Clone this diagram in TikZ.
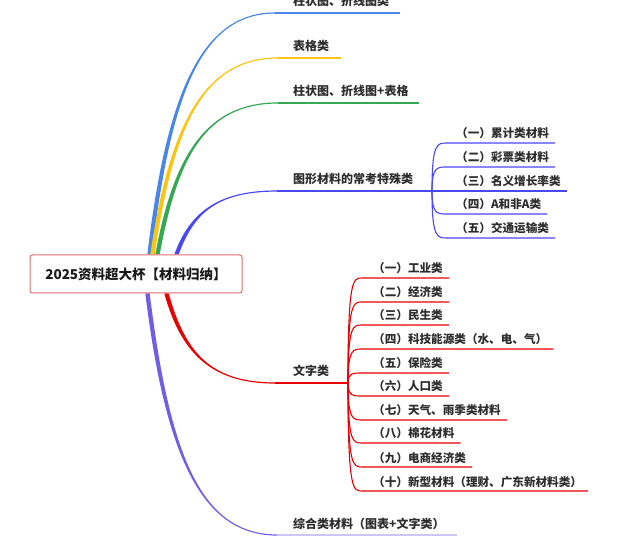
\documentclass[tikz,border=0pt]{standalone}
\usepackage{fontspec}
\setmainfont{Noto Sans CJK SC}
\usetikzlibrary{calc}
\usetikzlibrary{backgrounds}

\definecolor{brblue}{RGB}{74,134,232}
\definecolor{bryellow}{RGB}{250,197,20}
\definecolor{brgreen}{RGB}{52,168,83}
\definecolor{brviolet}{RGB}{72,72,245}
\definecolor{brred}{RGB}{230,0,0}
\definecolor{brpurple}{RGB}{112,94,230}
\definecolor{brlilac}{RGB}{205,198,245}
\definecolor{rootedge}{RGB}{228,108,108}
\definecolor{labelgray}{RGB}{45,45,45}

\tikzset{
  rootbox/.style={draw=rootedge, line width=1pt, rounded corners=2.5pt, fill=white,
    minimum width=212pt, minimum height=38pt, inner sep=0pt,
    font=\bfseries\fontsize{13.5}{15}\selectfont, text=black!90},
  toplabel/.style={anchor=base west, inner sep=0pt, text=labelgray,
    font=\bfseries\fontsize{12}{14}\selectfont},
  sublabel/.style={anchor=base west, inner sep=0pt, text=labelgray,
    font=\bfseries\fontsize{11.6}{13}\selectfont},
  topline/.style={line width=1.1pt},
  subline/.style={line width=1.1pt},
  bracket/.style={to path={.. controls (\tikztostart |- \tikztotarget)
      and ($(\tikztostart |- \tikztotarget)+(5,0)$) .. (\tikztotarget)}},
}

% tapered branch out of the root: colour, start, end, end offset (+ up, - down)
\newcommand\mainbranch[4]{%
  \fill[#1] let \p1=(#2), \p2=(#3),
    \p3=({\x1+0.15*(\x2-\x1)},{\y1+0.65*(\y2-\y1)}),
    \p4=({\x1+0.4*(\x2-\x1)},\y2) in
    (\x1-2.2pt,\y1) .. controls (\x3-2.2pt,\y3) and (\x4,{\y4+(#4)}) .. (\x2,{\y2+(#4)})
    -- (\x2,{\y2-(#4)}) .. controls (\x4,{\y4-(#4)}) and (\x3+2.2pt,\y3) .. (\x1+2.2pt,\y1) -- cycle;
}

\begin{document}
\begin{tikzpicture}[x=1pt,y=-1pt]
	\useasboundingbox (0,0) rectangle (627,537);

	\node[rootbox] (root) at (136,274) {2025资料超大杯【材料归纳】};

	% first level
	\node[toplabel] (t1) at (293,6) {柱状图、折线图类};
	\node[toplabel] (t2) at (293,51) {表格类};
	\node[toplabel] (t3) at (293,96) {柱状图、折线图+表格};
	\node[toplabel] (t4) at (293,184) {图形材料的常考特殊类};
	\node[toplabel] (t5) at (293,376) {文字类};
	\node[toplabel] (t6) at (293,528) {综合类材料（图表+文字类）};

	\coordinate (s1) at ($(root.north west)+(120,0)$);
	\coordinate (s2) at ($(root.north west)+(123,0)$);
	\coordinate (s3) at ($(root.north west)+(128,0)$);
	\coordinate (s4) at ($(root.north west)+(147,0)$);
	\coordinate (s5) at ($(root.south west)+(137,0)$);
	\coordinate (s6) at ($(root.south west)+(118,0)$);

	\coordinate (e1) at (275,13);
	\coordinate (e2) at (278,58);
	\coordinate (e3) at (278,103);
	\coordinate (e4) at (277,191);
	\coordinate (e5) at (275,383);
	\coordinate (e6) at (277,535);

	\coordinate (hg) at (432,191);
	\coordinate (hw) at (348,383);

	\begin{scope}[on background layer]
		\mainbranch{brblue}{s1}{e1}{0.6pt}
		\mainbranch{bryellow}{s2}{e2}{0.6pt}
		\mainbranch{brgreen}{s3}{e3}{0.6pt}
		\mainbranch{brviolet}{s4}{e4}{0.6pt}
		\mainbranch{brred}{s5}{e5}{-0.6pt}
		\mainbranch{brpurple}{s6}{e6}{-0.6pt}
	\end{scope}

	\draw[topline, brblue] (e1) -- ($(t1.east |- e1)+(11,0)$);
	\draw[topline, bryellow] (e2) -- ($(t2.east |- e2)+(12,0)$);
	\draw[topline, brgreen] (e3) -- ($(t3.east |- e3)+(10,0)$);
	\draw[topline, brviolet] (e4) -- (hg);
	\draw[topline, brred] (e5) -- (hw);
	\draw[topline, brlilac] (e6) -- ($(t6.east |- e6)+(12,0)$);

	% graphs: special kinds
	\foreach \i/\y/\txt in {1/143/（一）累计类材料, 2/167/（二）彩票类材料,
			3/191/（三）名义增长率类, 4/214/（四）A和非A类, 5/238/（五）交通运输类}{
		\coordinate (gs\i) at (447,\y);
		\node[sublabel] (g\i) at (456,\y-5) {\txt};
		\draw[subline, brviolet] (hg) to[bracket] (gs\i) -- ($(g\i.east |- gs\i)+(6,0)$);
	}

	% text material
	\foreach \i/\y/\txt in {1/278/（一）工业类, 2/302/（二）经济类, 3/325/（三）民生类,
			4/349/（四）科技能源类（水、电、气）, 5/373/（五）保险类, 6/396/（六）人口类,
			7/420/（七）天气、雨季类材料, 8/443/（八）棉花材料, 9/467/（九）电商经济类,
			10/491/（十）新型材料（理财、广东新材料类）}{
		\coordinate (ws\i) at (362,\y);
		\node[sublabel] (w\i) at (373,\y-5) {\txt};
		\draw[subline, brred] (hw) to[bracket] (ws\i) -- ($(w\i.east |- ws\i)+(6,0)$);
	}
\end{tikzpicture}
\end{document}
